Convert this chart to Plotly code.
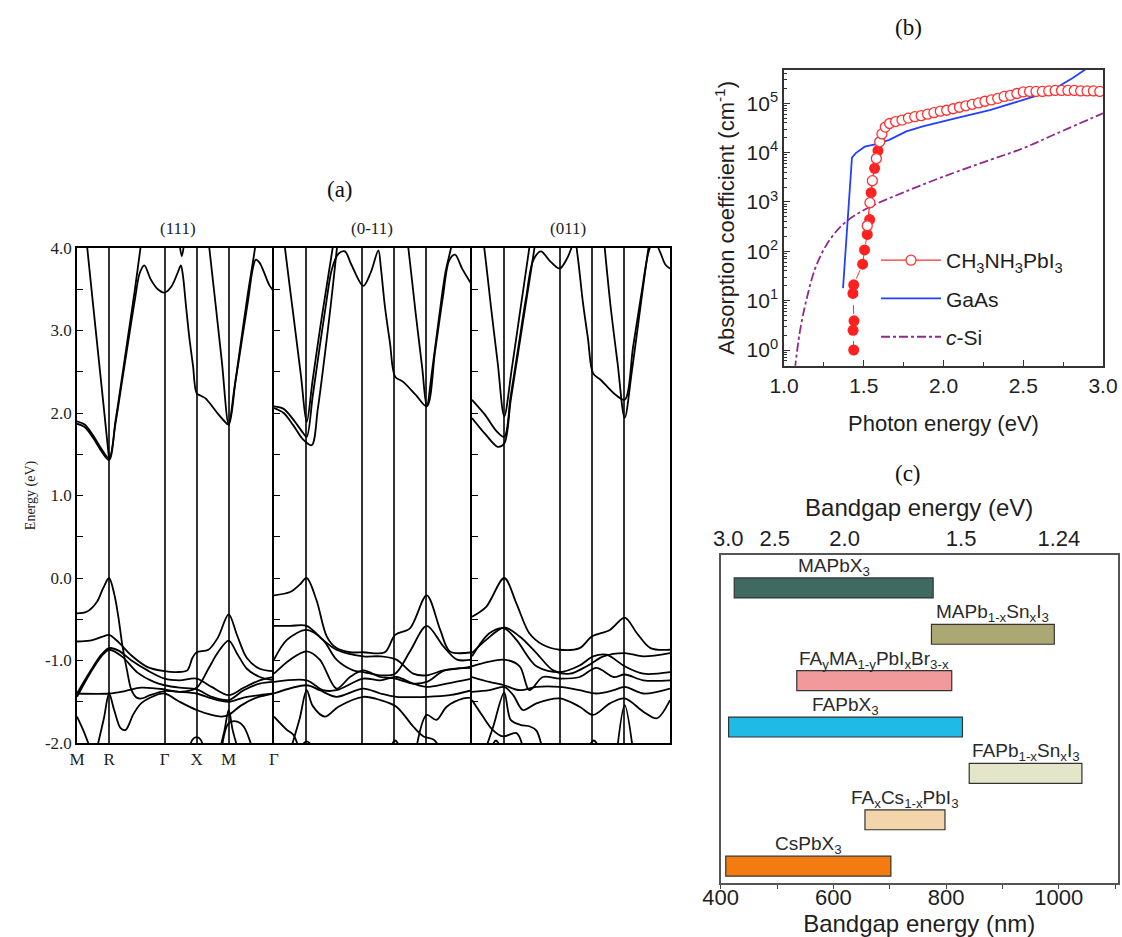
import plotly.graph_objects as go

W, H = 1122, 937


def fx(p):
    return p / W


def fy(p):
    return 1 - p / H


# ------------------------------------------------------------------
# (a) band structures of the three surfaces
# ------------------------------------------------------------------
K_TICKS = [0, 0.5, 1.366, 1.866, 2.366, 3.073]
K_LABELS = ["M", "R", "Γ", "X", "M", "Γ"]
K_INNER = [0.5, 1.366, 1.866, 2.366]
E_TICKS = [-2, -1, 0, 1, 2, 3, 4]
E_LABELS = ["-2.0", "-1.0", "0.0", "1.0", "2.0", "3.0", "4.0"]
E_MINOR = [-1.5, -0.5, 0.5, 1.5, 2.5, 3.5]
SURFACES = ["(111)", "(0-11)", "(011)"]

# each band: list of (k, E[eV]) points
BANDS_111 = [
    [(0, 1.90), (0.12, 1.86), (0.25, 1.73), (0.37, 1.58), (0.5, 1.45), (0.6, 1.87), (0.7, 2.37),
     (0.8, 2.87), (0.9, 3.36), (0.98, 3.70), (1.05, 3.79), (1.15, 3.62), (1.26, 3.50), (1.366, 3.46),
     (1.47, 3.53), (1.57, 3.70), (1.62, 3.79), (1.65, 3.68), (1.70, 3.30), (1.75, 2.93), (1.81, 2.57),
     (1.866, 2.24), (1.93, 2.21), (2.0, 2.18), (2.1, 2.09), (2.2, 1.99), (2.3, 1.90), (2.366, 1.86),
     (2.47, 2.37), (2.57, 2.87), (2.67, 3.37), (2.74, 3.74), (2.79, 3.86), (2.85, 3.82), (2.91, 3.72),
     (3.0, 3.55), (3.073, 3.47)],
    [(0, 1.87), (0.12, 1.83), (0.25, 1.70), (0.37, 1.55), (0.5, 1.43), (0.6, 1.90), (0.7, 2.42),
     (0.8, 2.95), (0.9, 3.48), (0.99, 4.0), (1.05, 4.35)],
    [(0.08, 4.6), (0.16, 4.0), (0.25, 3.32), (0.33, 2.72), (0.42, 2.05), (0.5, 1.44)],
    [(1.56, 4.4), (1.6, 4.05), (1.635, 3.9), (1.67, 4.05), (1.71, 4.4)],
    [(1.99, 4.6), (2.064, 4.0), (2.15, 3.4), (2.26, 2.62), (2.366, 1.86), (2.45, 2.27), (2.55, 2.82),
     (2.66, 3.42), (2.777, 4.0), (2.84, 4.4)],
    [(0, -0.43), (0.15, -0.41), (0.31, -0.29), (0.41, -0.12), (0.5, 0.0), (0.58, -0.19), (0.645, -0.47),
     (0.71, -0.83), (0.78, -1.12), (0.85, -1.36), (0.93, -1.45), (1.01, -1.46), (1.14, -1.42),
     (1.366, -1.37), (1.6, -1.38), (1.866, -1.40), (2.1, -1.46), (2.366, -1.50), (2.6, -1.45),
     (2.85, -1.42), (3.073, -1.40)],
    [(0, -0.77), (0.2, -0.76), (0.4, -0.71), (0.5, -0.69), (0.65, -0.78), (0.85, -0.94), (1.1, -1.08),
     (1.366, -1.13), (1.55, -1.14), (1.72, -1.12), (1.8, -0.97), (1.866, -0.90), (2.05, -0.87),
     (2.2, -0.72), (2.366, -0.44), (2.5, -0.70), (2.65, -0.97), (2.85, -1.10), (3.073, -1.13)],
    [(0, -1.40), (0.2, -1.14), (0.38, -0.93), (0.5, -0.85), (0.65, -0.88), (0.85, -1.0), (1.1, -1.12),
     (1.366, -1.22), (1.6, -1.24), (1.866, -1.22), (2.1, -1.32), (2.366, -1.42), (2.6, -1.33),
     (2.85, -1.24), (3.073, -1.20)],
    [(0, -1.44), (0.2, -1.16), (0.38, -0.95), (0.5, -0.87), (0.7, -0.95), (0.95, -1.15), (1.2, -1.26),
     (1.366, -1.30), (1.6, -1.33), (1.866, -1.35), (2.1, -1.44), (2.366, -1.48), (2.6, -1.36),
     (2.85, -1.28), (3.073, -1.26)],
    [(0, -1.40), (0.5, -1.40), (0.75, -1.37), (1.0, -1.33), (1.366, -1.35), (1.6, -1.38), (1.866, -1.33),
     (2.05, -1.10), (2.2, -0.90), (2.366, -0.76), (2.5, -0.92), (2.65, -1.10), (2.85, -1.20),
     (3.073, -1.24)],
    [(0.3, -2.1), (0.42, -1.70), (0.5, -1.40), (0.58, -1.60), (0.68, -1.82), (0.76, -1.84), (0.88, -1.65),
     (1.0, -1.52), (1.2, -1.43), (1.366, -1.40), (1.6, -1.50), (1.866, -1.60), (2.1, -1.66),
     (2.25, -1.68), (2.366, -1.66), (2.55, -1.55), (2.8, -1.45), (3.073, -1.40)],
    [(2.22, -2.1), (2.3, -1.85), (2.366, -1.60), (2.43, -1.85), (2.52, -2.1)],
    [(0, -1.68), (0.1, -1.85), (0.2, -2.05), (0.25, -2.15)],
    [(1.75, -2.1), (1.8, -1.96), (1.866, -1.93), (1.93, -1.96), (1.98, -2.1)],
    [(2.25, -2.1), (2.366, -1.76), (2.5, -1.74), (2.6, -1.80), (2.75, -2.1)],
]

BANDS_0M11 = [
    [(0, 2.08), (0.15, 2.05), (0.3, 1.92), (0.45, 1.76), (0.507, 1.71), (0.6, 2.20), (0.7, 2.75),
     (0.8, 3.28), (0.9, 3.75), (1.0, 3.93), (1.1, 3.96), (1.2, 3.80), (1.386, 3.54), (1.5, 3.70),
     (1.62, 3.97), (1.66, 3.75), (1.72, 3.30), (1.8, 2.85), (1.88, 2.44), (2.0, 2.38), (2.2, 2.22),
     (2.37, 2.08), (2.5, 2.75), (2.62, 3.40), (2.72, 3.85), (2.81, 3.92), (2.92, 3.75), (3.073, 3.55)],
    [(0, 2.06), (0.15, 2.0), (0.3, 1.85), (0.45, 1.68), (0.585, 1.61), (0.68, 2.05), (0.78, 2.65),
     (0.88, 3.30), (0.97, 3.95), (1.03, 4.4)],
    [(0.1, 4.5), (0.17, 4.0), (0.3, 3.19), (0.42, 2.44), (0.507, 1.89), (0.6, 2.40), (0.72, 3.05),
     (0.84, 3.65), (0.92, 4.05), (0.98, 4.4)],
    [(2.0, 4.5), (2.085, 4.0), (2.2, 3.2), (2.3, 2.55), (2.37, 2.08), (2.46, 2.55), (2.56, 3.15),
     (2.66, 3.70), (2.76, 4.05), (2.82, 4.4)],
    [(0, -0.21), (0.25, -0.17), (0.4, -0.08), (0.507, 0.0), (0.66, -0.27), (0.82, -0.71), (0.97, -0.85),
     (1.18, -0.90), (1.386, -0.90), (1.72, -0.90), (1.88, -0.69), (2.11, -0.61), (2.37, -0.21),
     (2.58, -0.63), (2.73, -0.89), (3.073, -0.90)],
    [(0, -0.58), (0.25, -0.58), (0.507, -0.58), (0.76, -0.75), (0.97, -0.87), (1.386, -0.95),
     (1.65, -0.95), (1.9, -0.99), (2.16, -1.16), (2.37, -1.18), (2.63, -1.12), (2.94, -1.09),
     (3.073, -1.07)],
    [(0, -0.99), (0.2, -0.75), (0.507, -0.63), (0.76, -0.75), (0.97, -0.99), (1.23, -1.12),
     (1.386, -1.14), (1.65, -1.18), (1.88, -1.16), (2.11, -0.89), (2.37, -0.58), (2.63, -0.83),
     (2.84, -0.99), (3.073, -0.99)],
    [(0, -1.16), (0.25, -0.99), (0.507, -0.89), (0.71, -0.99), (0.97, -1.34), (1.18, -1.20),
     (1.386, -1.12), (1.65, -1.20), (1.88, -1.22), (2.16, -1.28), (2.37, -1.26), (2.65, -1.12),
     (3.073, -1.09)],
    [(0, -1.26), (0.507, -1.24), (0.76, -1.36), (0.97, -1.36), (1.386, -1.22), (1.65, -1.24),
     (1.9, -1.20), (2.16, -1.28), (2.37, -1.32), (2.68, -1.28), (3.073, -1.22)],
    [(0, -1.40), (0.507, -1.30), (0.71, -1.36), (0.97, -1.44), (1.386, -1.34), (1.65, -1.40),
     (1.9, -1.44), (2.37, -1.44), (2.73, -1.42), (3.073, -1.36)],
    [(0.25, -2.1), (0.4, -1.70), (0.507, -1.36), (0.6, -1.55), (0.79, -1.68), (1.0, -1.56),
     (1.386, -1.44), (1.65, -1.48), (1.9, -1.56), (2.16, -1.80), (2.32, -1.92), (2.48, -1.96),
     (2.6, -2.1)],
    [(2.2, -2.1), (2.37, -1.66), (2.52, -1.72), (2.68, -1.56), (2.94, -1.46), (3.073, -1.45)],
    [(0, -1.68), (0.2, -1.84), (0.3, -1.90), (0.4, -2.1)],
    [(0.4, -2.06), (0.507, -1.98), (0.62, -2.06)],
    [(1.8, -2.06), (1.88, -1.97), (1.96, -2.06)],
]

BANDS_011 = [
    [(0, 2.16), (0.2, 1.98), (0.38, 1.78), (0.5, 1.71), (0.6, 2.20), (0.72, 2.80), (0.84, 3.40),
     (0.95, 3.85), (1.07, 3.96), (1.2, 3.85), (1.36, 3.75), (1.48, 3.88), (1.56, 4.03), (1.6, 4.08),
     (1.64, 3.90), (1.72, 3.35), (1.8, 2.90), (1.88, 2.48), (2.0, 2.40), (2.2, 2.24), (2.37, 2.16),
     (2.5, 2.80), (2.63, 3.45), (2.74, 3.95), (2.82, 4.10), (2.92, 3.95), (3.0, 3.80), (3.073, 3.75)],
    [(0, 1.94), (0.2, 1.75), (0.4, 1.59), (0.5, 1.63), (0.6, 2.15), (0.72, 2.75), (0.84, 3.35),
     (0.96, 3.95), (1.02, 4.3)],
    [(0.1, 4.5), (0.19, 4.0), (0.3, 3.25), (0.4, 2.60), (0.5, 1.96), (0.62, 2.55), (0.75, 3.25),
     (0.88, 3.95), (0.94, 4.3)],
    [(2.0, 4.5), (2.06, 4.0), (2.15, 3.3), (2.26, 2.6), (2.37, 1.94), (2.48, 2.5), (2.6, 3.2),
     (2.72, 3.9), (2.8, 4.3)],
    [(0, -0.47), (0.22, -0.35), (0.5, 0.0), (0.69, -0.31), (0.89, -0.67), (1.1, -0.81), (1.36, -0.87),
     (1.67, -0.85), (1.86, -0.71), (2.14, -0.63), (2.37, -0.48), (2.56, -0.67), (2.77, -0.85),
     (3.073, -0.87)],
    [(0, -0.91), (0.22, -0.75), (0.5, -0.60), (0.74, -0.71), (1.0, -0.91), (1.26, -1.12),
     (1.52, -1.16), (1.78, -1.07), (2.04, -0.95), (2.37, -0.91), (2.66, -0.95), (3.073, -0.91)],
    [(0, -0.95), (0.27, -0.67), (0.5, -0.61), (0.69, -0.75), (1.0, -1.07), (1.36, -1.14),
     (1.67, -1.06), (1.88, -0.95), (2.09, -0.93), (2.37, -1.07), (2.66, -1.16), (3.073, -1.14)],
    [(0, -1.07), (0.5, -0.99), (0.74, -1.07), (0.89, -1.36), (1.1, -1.20), (1.36, -1.22),
     (1.67, -1.20), (1.93, -1.09), (2.2, -1.20), (2.37, -1.17), (2.66, -1.24), (3.073, -1.24)],
    [(0, -1.20), (0.27, -1.26), (0.5, -1.30), (0.74, -1.36), (1.0, -1.32), (1.36, -1.32),
     (1.67, -1.36), (1.93, -1.40), (2.2, -1.36), (2.37, -1.32), (2.66, -1.40), (3.073, -1.34)],
    [(0, -1.38), (0.27, -1.36), (0.5, -1.32), (0.64, -1.42), (0.79, -1.60), (1.0, -1.52),
     (1.36, -1.46), (1.67, -1.56), (1.88, -1.66), (2.14, -1.52), (2.37, -1.46), (2.66, -1.62),
     (2.87, -1.70), (3.073, -1.48)],
    [(0.2, -2.1), (0.33, -1.80), (0.5, -1.39), (0.6, -1.72), (0.75, -1.78), (0.9, -1.80),
     (1.0, -1.85), (1.1, -2.1)],
    [(2.25, -2.1), (2.37, -1.54), (2.5, -2.1)],
    [(0, -1.48), (0.17, -1.68), (0.32, -1.84), (0.48, -1.92), (0.69, -1.88), (0.79, -2.05)],
    [(1.8, -2.06), (1.89, -1.97), (1.98, -2.06)],
    [(0.3, -2.06), (0.37, -1.97), (0.45, -2.06)],
]

# ------------------------------------------------------------------
# (b) absorption coefficient
# ------------------------------------------------------------------
MAPI_EDGE_EV = [1.437, 1.433, 1.439, 1.432, 1.437, 1.493, 1.505, 1.522, 1.537, 1.546, 1.568, 1.589]
MAPI_EDGE_ALPHA = [1.0, 2.5, 3.9, 14, 21, 55, 107, 220, 440, 1540, 4800, 11000]
MAPI_EV = [1.522, 1.539, 1.554, 1.579, 1.600, 1.614, 1.635, 1.662, 1.70, 1.74, 1.78, 1.82, 1.86,
           1.90, 1.94, 1.98, 2.02, 2.06, 2.10, 2.14, 2.18, 2.22, 2.26, 2.30, 2.34, 2.38, 2.42,
           2.46, 2.50, 2.54, 2.58, 2.62, 2.66, 2.70, 2.74, 2.78, 2.82, 2.86, 2.90, 2.94, 2.98]
MAPI_ALPHA = [330, 970, 2700, 7600, 16600, 24000, 33000, 39000, 42700, 45700, 50100, 53700, 56200,
              60300, 64600, 69200, 72400, 77600, 83200, 89100, 95500, 102000, 110000, 117000,
              126000, 138000, 145000, 158000, 170000, 174000, 174000, 174000, 178000, 182000,
              182000, 182000, 182000, 178000, 178000, 178000, 174000]
GAAS_EV = [1.37, 1.426, 1.45, 1.506, 1.579, 1.66, 1.767, 1.87, 2.08, 2.29, 2.5, 2.6, 2.71, 2.81,
           2.9, 2.93]
GAAS_ALPHA = [18, 7900, 9800, 13200, 14800, 18200, 26900, 33900, 50100, 72400, 117000, 148000,
              209000, 324000, 513000, 630000]
SI_EV = [1.068, 1.098, 1.14, 1.2, 1.286, 1.39, 1.537, 1.746, 1.997, 2.29, 2.5, 2.71, 3.0]
SI_ALPHA = [0.4, 2.2, 10.2, 49, 170, 400, 790, 1550, 3240, 7100, 12300, 24500, 63000]
ALPHA_TICKS = [1, 10, 100, 1000, 10000, 100000]
ALPHA_LABELS = ["10<sup>0</sup>", "10<sup>1</sup>", "10<sup>2</sup>", "10<sup>3</sup>",
                "10<sup>4</sup>", "10<sup>5</sup>"]

# ------------------------------------------------------------------
# (c) bandgap ranges
# ------------------------------------------------------------------
MATERIALS = ["MAPbX<sub>3</sub>", "MAPb<sub>1-x</sub>Sn<sub>x</sub>I<sub>3</sub>",
             "FA<sub>y</sub>MA<sub>1-y</sub>PbI<sub>x</sub>Br<sub>3-x</sub>", "FAPbX<sub>3</sub>",
             "FAPb<sub>1-x</sub>Sn<sub>x</sub>I<sub>3</sub>", "FA<sub>x</sub>Cs<sub>1-x</sub>PbI<sub>3</sub>",
             "CsPbX<sub>3</sub>"]
GAP_MIN_NM = [424, 774, 535, 414, 841, 656, 409]
GAP_MAX_NM = [777, 992, 810, 829, 1041, 798, 702]
BAR_COLORS = ["#3f6a62", "#aca874", "#f09a9c", "#1fbbe6", "#e3e6c9", "#f3d5ab", "#f27b12"]
EV_LABELS = ["3.0", "2.5", "2.0", "1.5", "1.24"]

SERIF = "Liberation Serif"
SANS = "Liberation Sans"
TXT = "#1e1e1e"

fig = go.Figure()

# ---------- (a) ----------
a_left = [77, 274, 472]
a_right = [274, 472, 670]
for i, bands in enumerate([BANDS_111, BANDS_0M11, BANDS_011]):
    sfx = "" if i == 0 else str(i + 1)
    for band in bands:
        fig.add_trace(go.Scatter(
            x=[p[0] for p in band], y=[p[1] for p in band], mode="lines",
            line=dict(color="black", width=1.8, shape="spline", smoothing=0.9),
            xaxis="x" + sfx, yaxis="y" + sfx, showlegend=False, hoverinfo="skip"))

layout = dict(
    width=W, height=H, margin=dict(l=0, r=0, t=0, b=0, autoexpand=False),
    paper_bgcolor="white", plot_bgcolor="white",
    showlegend=True,
)
for i in range(3):
    sfx = "" if i == 0 else str(i + 1)
    layout["xaxis" + sfx] = dict(
        domain=[fx(a_left[i]), fx(a_right[i])], anchor="y" + sfx, automargin=False,
        range=[0, 3.073], tickmode="array", tickvals=K_TICKS, ticktext=K_LABELS,
        showticklabels=(i == 0), ticks="", showgrid=False,
        minor=dict(tickmode="array", tickvals=K_INNER, ticks="", showgrid=True,
                   gridcolor="#333", gridwidth=1.5),
        showline=True, mirror=True, linecolor="black", linewidth=1.6, zeroline=False,
        tickfont=dict(family=SERIF, size=17, color=TXT), fixedrange=True)
    layout["yaxis" + sfx] = dict(
        domain=[fy(743), fy(248)], anchor="x" + sfx, automargin=False,
        range=[-2, 4], tickmode="array", tickvals=E_TICKS, ticktext=E_LABELS,
        showticklabels=(i == 0), ticks="inside", ticklen=6, tickcolor="black",
        minor=dict(tickmode="array", tickvals=E_MINOR, ticks="inside", ticklen=6, tickcolor="black"),
        showgrid=False, showline=True, mirror=(i == 2), linecolor="black", linewidth=1.6,
        zeroline=False,
        tickfont=dict(family=SERIF, size=17, color=TXT), fixedrange=True,
        title=dict(text="Energy (eV)" if i == 0 else "", font=dict(family=SERIF, size=14, color=TXT),
                   standoff=6))

# ---------- (b) ----------
fig.add_trace(go.Scatter(x=SI_EV, y=SI_ALPHA, mode="lines", name="<i>c</i>-Si", legendrank=3,
                         legendgroup="si",
                         line=dict(color="#93288f", width=1.8, dash="dashdot", shape="spline"),
                         xaxis="x4", yaxis="y4"))
fig.add_trace(go.Scatter(x=GAAS_EV, y=GAAS_ALPHA, mode="lines", name="GaAs", legendrank=2,
                         legendgroup="gaas",
                         line=dict(color="#2340ff", width=1.8), xaxis="x4", yaxis="y4"))
fig.add_trace(go.Scatter(x=MAPI_EDGE_EV, y=MAPI_EDGE_ALPHA, mode="lines+markers", showlegend=False,
                         line=dict(color="#ff2a2a", width=1, dash="dash"),
                         marker=dict(symbol="circle", size=11, color="#ff2020"),
                         xaxis="x4", yaxis="y4"))
fig.add_trace(go.Scatter(x=MAPI_EV, y=MAPI_ALPHA, mode="lines+markers", legendrank=1,
                         legendgroup="mapi",
                         name="CH<sub>3</sub>NH<sub>3</sub>PbI<sub>3</sub>",
                         line=dict(color="#ff3030", width=1.3),
                         marker=dict(symbol="circle", size=10, color="white",
                                     line=dict(color="#ff3030", width=1.3)),
                         xaxis="x4", yaxis="y4"))

layout["xaxis4"] = dict(
    domain=[fx(784), fx(1103)], anchor="y4", automargin=False,
    range=[1, 3], dtick=0.5, tick0=1, tickformat=".1f",
    ticks="inside", ticklen=6, tickcolor="#333",
    minor=dict(dtick=0.25, ticks="inside", ticklen=4, tickcolor="#333"),
    showgrid=False, zeroline=False, showline=True, mirror=True, linecolor="#333", linewidth=1.5,
    tickfont=dict(family=SANS, size=21, color=TXT), fixedrange=True,
    title=dict(text="Photon energy (eV)", font=dict(family=SANS, size=22, color=TXT), standoff=20))
layout["yaxis4"] = dict(
    domain=[fy(365.7), fy(70)], anchor="x4", automargin=False,
    type="log", range=[-0.318, 5.675],
    tickmode="array", tickvals=ALPHA_TICKS, ticktext=ALPHA_LABELS,
    ticks="inside", ticklen=6, tickcolor="#333",
    minor=dict(ticks="inside", ticklen=3, tickcolor="#333", dtick="D1"),
    showgrid=False, zeroline=False, showline=True, mirror=True, linecolor="#333", linewidth=1.5,
    tickfont=dict(family=SANS, size=21, color=TXT), fixedrange=True,
    title=dict(text="Absorption coefficient (cm<sup>-1</sup>)",
               font=dict(family=SANS, size=22, color=TXT), standoff=6))
layout["legend"] = dict(
    x=fx(876), y=fy(240), xanchor="left", yanchor="top", bgcolor="rgba(0,0,0,0)",
    font=dict(family=SANS, size=21, color=TXT), itemwidth=60, tracegroupgap=8,
    traceorder="grouped")

# ---------- (c) ----------
idx = list(range(len(MATERIALS)))
fig.add_trace(go.Bar(
    y=idx, x=[b - a for a, b in zip(GAP_MIN_NM, GAP_MAX_NM)], base=GAP_MIN_NM, orientation="h",
    width=0.43, marker=dict(color=BAR_COLORS, line=dict(color="#333", width=1.2)),
    xaxis="x5", yaxis="y5", showlegend=False, hoverinfo="skip"))
fig.add_trace(go.Scatter(x=[1240 / float(v) for v in EV_LABELS], y=[None] * len(EV_LABELS),
                         mode="markers", xaxis="x6", yaxis="y5", showlegend=False,
                         hoverinfo="skip"))

c_range = [400, 1104.5]
layout["xaxis5"] = dict(
    domain=[fx(720.7), fx(1117.7)], anchor="y5", automargin=False, range=c_range,
    tickmode="array", tickvals=[400, 600, 800, 1000], ticks="outside", ticklen=4, tickcolor="#444",
    minor=dict(tickmode="array", tickvals=[500, 700, 900, 1100], ticks="outside", ticklen=4,
               tickcolor="#444"),
    ticklabelstandoff=-10,
    showgrid=False, zeroline=False, showline=True, mirror=True, linecolor="#555", linewidth=1.5,
    tickfont=dict(family=SANS, size=22, color=TXT), fixedrange=True,
    title=dict(text="Bandgap energy (nm)", font=dict(family=SANS, size=24, color=TXT), standoff=14))
layout["xaxis6"] = dict(
    overlaying="x5", side="top", anchor="y5", automargin=False, range=c_range,
    tickmode="array", tickvals=[1240 / float(v) for v in EV_LABELS], ticktext=EV_LABELS,
    ticks="", showgrid=False, zeroline=False, showline=False, ticklabelstandoff=4,
    tickfont=dict(family=SANS, size=22, color=TXT), fixedrange=True,
    title=dict(text="Bandgap energy (eV)", font=dict(family=SANS, size=24, color=TXT), standoff=2))
layout["yaxis5"] = dict(
    domain=[fy(883.3), fy(555)], anchor="x5", automargin=False, range=[6.37, -0.71],
    showticklabels=False, ticks="", showgrid=False, zeroline=False,
    showline=True, mirror=True, linecolor="#555", linewidth=1.5, fixedrange=True)

annotations = []
for i, name in enumerate(MATERIALS):
    annotations.append(dict(
        x=(GAP_MIN_NM[i] + GAP_MAX_NM[i]) / 2, y=i - 0.215, xref="x5", yref="y5",
        text=name, showarrow=False, xanchor="center", yanchor="bottom", yshift=-3,
        font=dict(family=SANS, size=19, color="#2a2a2a")))

# panel labels and surface titles
for txt, x, y in [("(a)", 340, 190), ("(b)", 908, 28), ("(c)", 908, 473)]:
    annotations.append(dict(x=fx(x), y=fy(y), xref="paper", yref="paper", text=txt,
                            showarrow=False, xanchor="center", yanchor="middle",
                            font=dict(family=SERIF, size=23, color="#111")))
for txt, x in zip(SURFACES, [178, 372, 568]):
    annotations.append(dict(x=fx(x), y=fy(229), xref="paper", yref="paper", text=txt,
                            showarrow=False, xanchor="center", yanchor="middle",
                            font=dict(family=SERIF, size=17, color="#222")))
layout["annotations"] = annotations

fig.update_layout(**layout)
fig.write_html("out.html", config={"displayModeBar": False},
               post_script="document.body.style.margin='0';")
